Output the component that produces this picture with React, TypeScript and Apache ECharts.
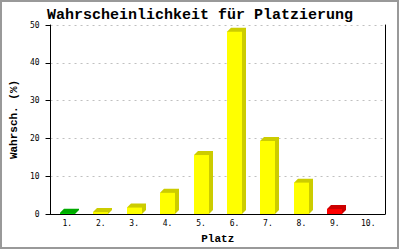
import React, { useEffect, useRef } from "react";
import * as echarts from "echarts";

const CATEGORIES = ["1.", "2.", "3.", "4.", "5.", "6.", "7.", "8.", "9.", "10."];
const VALUES = [0.3, 0.5, 1.7, 5.6, 15.6, 48.2, 19.3, 8.3, 1.3, 0];
const Y_TICKS = [0, 10, 20, 30, 40, 50];
const TITLE = "Wahrscheinlichkeit für Platzierung";
const X_NAME = "Platz";
const Y_NAME = "Wahrsch. (%)";

const FRONT = ["#00cc00", "#ffff00", "#ffff00", "#ffff00", "#ffff00", "#ffff00", "#ffff00", "#ffff00", "#ff0000", "#ffff00"];
const SIDE = ["#00aa00", "#cccc00", "#cccc00", "#cccc00", "#cccc00", "#cccc00", "#cccc00", "#cccc00", "#cc0000", "#cccc00"];

const MONO = "'Liberation Mono', 'DejaVu Sans Mono', monospace";
const SMALL = "'DejaVu Sans Mono', 'Liberation Mono', monospace";

export default function App() {
  const ref = useRef<HTMLDivElement>(null);
  useEffect(() => {
    if (!ref.current) return;
    const chart = echarts.init(ref.current, undefined, { renderer: "svg" });
    const data = CATEGORIES.map((c, i) => [i, VALUES[i]]);
    chart.setOption({
      animation: false,
      backgroundColor: "#ffffff",
      title: {
        text: TITLE,
        left: "center",
        top: 3,
        textStyle: { fontFamily: MONO, fontWeight: "bold", fontSize: 15, color: "#000" },
      },
      grid: { left: 43, right: 15, top: 25, bottom: 36, containLabel: false },
      xAxis: {
        type: "category",
        data: CATEGORIES,
        name: X_NAME,
        nameLocation: "middle",
        nameGap: 19,
        nameTextStyle: { fontFamily: MONO, fontWeight: "bold", fontSize: 11, color: "#000", verticalAlign: "top" },
        axisLine: { show: true, lineStyle: { color: "#000", width: 1 } },
        axisTick: { show: false },
        axisLabel: { fontFamily: SMALL, fontSize: 8, color: "#000", margin: 5 },
      },
      yAxis: [
        {
          type: "value",
          min: Y_TICKS[0],
          max: Y_TICKS[Y_TICKS.length - 1],
          interval: Y_TICKS[1] - Y_TICKS[0],
          name: Y_NAME,
          nameLocation: "middle",
          nameGap: 26,
          nameRotate: 90,
          nameTextStyle: { fontFamily: MONO, fontWeight: "bold", fontSize: 11, color: "#000" },
          axisLine: { show: true, lineStyle: { color: "#000", width: 1 } },
          axisTick: { show: true, inside: false, length: 5, lineStyle: { color: "#000" } },
          axisLabel: { fontFamily: SMALL, fontSize: 8, color: "#000", margin: 11 },
          splitLine: { show: true, lineStyle: { color: "#c0c0c0", type: [2, 4] } },
        },
        {
          type: "value",
          position: "right",
          min: Y_TICKS[0],
          max: Y_TICKS[Y_TICKS.length - 1],
          interval: Y_TICKS[1] - Y_TICKS[0],
          axisLine: { show: true, lineStyle: { color: "#000", width: 1 } },
          axisTick: { show: false },
          axisLabel: { show: false },
          splitLine: { show: false },
        },
      ],
      series: [
        {
          type: "custom",
          data,
          renderItem: (params: any, api: any) => {
            const idx = api.value(0);
            const v = api.value(1);
            if (!v) return null;
            const top = api.coord([idx, v]);
            const base = api.coord([idx, 0]);
            const band = api.size([1, 0])[0];
            const w = Math.round(band * 0.44);
            const d = 4;
            const x0 = Math.round(top[0] - w / 2);
            const yt = top[1];
            const yb = base[1];
            return {
              type: "group",
              children: [
                {
                  type: "polygon",
                  shape: {
                    points: [
                      [x0, yt],
                      [x0 + d, yt - d],
                      [x0 + w + d, yt - d],
                      [x0 + w + d, yb - d],
                      [x0 + w, yb],
                      [x0, yb],
                    ],
                  },
                  style: { fill: SIDE[params.dataIndex], stroke: null },
                },
                {
                  type: "rect",
                  shape: { x: x0, y: yt, width: w, height: yb - yt },
                  style: { fill: FRONT[params.dataIndex], stroke: null },
                },
              ],
            };
          },
        },
      ],
      graphic: [
        {
          type: "rect",
          shape: { x: 1, y: 1, width: 397, height: 247 },
          style: { fill: null, stroke: "#999999", lineWidth: 2 },
          silent: true,
          z: 100,
        },
      ],
    });
    return () => chart.dispose();
  }, []);
  return (
    <div
      ref={ref}
      style={{ position: "absolute", left: 0, top: 0, width: 400, height: 250 }}
    />
  );
}
